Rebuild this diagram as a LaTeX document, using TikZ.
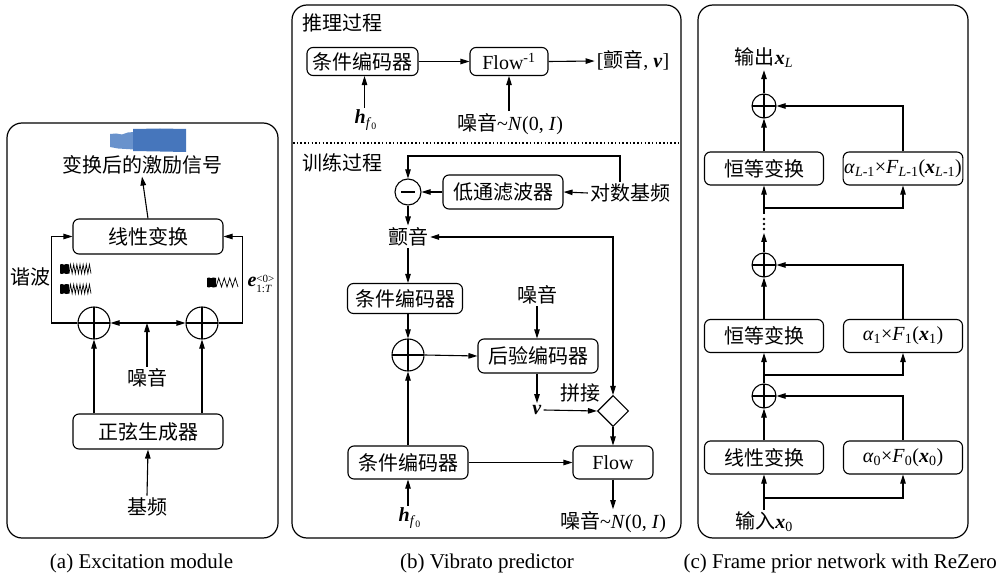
\documentclass[tikz,border=0pt]{standalone}
\usepackage{fontspec}
\setmainfont{Liberation Serif}
\newfontfamily\cjk{Noto Sans CJK SC}
\usetikzlibrary{arrows.meta,shapes.geometric}
\newcommand\zh[1]{{\cjk #1}}
\newcommand\bi[1]{\textbf{\textit{#1}}}
\definecolor{blobblue}{RGB}{70,118,188}
\definecolor{blobpale}{RGB}{105,146,204}
\tikzset{
  every node/.style={font=\fontsize{20}{24}\selectfont, inner sep=2pt},
  box/.style={draw, rounded corners=6pt, line width=1.1pt, minimum height=33pt, inner sep=1pt},
  arr/.style={-{Triangle[length=9pt,width=5.5pt]}, line width=1.1pt},
  dbl/.style={{Triangle[length=9pt,width=5.5pt]}-{Triangle[length=9pt,width=5.5pt]}, line width=1.1pt},
  ln/.style={line width=1.1pt},
  plus/.style={draw, circle, line width=1.1pt, minimum size=#1, inner sep=0pt,
    path picture={\draw[line width=1.1pt] (path picture bounding box.north) -- (path picture bounding box.south)
      (path picture bounding box.west) -- (path picture bounding box.east);}},
  plus/.default=32pt,
  minuscirc/.style={draw, circle, line width=1.1pt, minimum size=26pt, inner sep=0pt,
    path picture={\draw[line width=2.4pt] ([xshift=-7pt]path picture bounding box.center) -- ([xshift=7pt]path picture bounding box.center);}},
  catdiamond/.style={draw, diamond, line width=1.1pt, minimum width=31pt, minimum height=31pt, inner sep=0pt},
  panel/.style={draw, rounded corners=15pt, line width=1.2pt},
  caption/.style={font=\fontsize{21}{24}\selectfont},
  sigwave/.pic={
    \fill (0,-4.5) -- (2,-5) -- (4,-4.2) -- (6,-5) -- (9,-4.5) -- (9,4.5) -- (6,5) -- (4,4.2) -- (2,5) -- (0,4.5) -- cycle;
    \pgfmathsetmacro\cw{22/#1}
    \draw[line width=0.7pt] (9,4.5) \foreach \i in {1,...,#1}{ -- ++(\cw/2,-9) -- ++(\cw/2,9)};
  }
}
\begin{document}
\begin{tikzpicture}[x=1pt,y=-1pt]
\useasboundingbox (0,0) rectangle (998,577);

% ---------------- panel (a) ----------------
\draw[panel] (7,123) rectangle (278,538);
\fill[blobpale] (110,134) -- (116,133.5) -- (122,134.5) -- (128,132.5) -- (134,132) -- (134,149.5) -- (126,149) -- (118,148.5) -- (110,147) -- cycle;
\fill[blobblue] (133,129) -- (160,128.5) -- (186,129) -- (186,152) -- (160,151.5) -- (133,151) -- cycle;

\node (exc) at (142,165) {\zh{变换后的激励信号}};
\node[box, minimum width=150pt, minimum height=35pt] (lin) at (148,236.5) {\zh{线性变换}};
\node[box, minimum width=150pt, minimum height=35pt] (sine) at (148,431.5) {\zh{正弦生成器}};
\node[plus] (pa1) at (94,323) {};
\node[plus] (pa2) at (202,323) {};
\node (noise) at (147,378) {\zh{噪音}};
\node (f0) at (147,507) {\zh{基频}};
\node (harm) at (30,277) {\zh{谐波}};
\node[inner sep=0pt] (elab) at (261,284) {\bi{e}\raisebox{-0.7ex}{\fontsize{11}{12.5}\selectfont\shortstack[l]{<0>\\1:\textit{T}}}};
\coordinate (nj) at (147,323);

\pic at (60,269) {sigwave=7};
\pic at (60,289) {sigwave=7};
\pic at (207,282.5) {sigwave=4};

\draw[arr] (lin.north) -- (exc.south);
\draw[arr] (pa1.west) -- ++(-26,0) |- (lin.west);
\draw[arr] (pa2.east) -- ++(24,0) |- (lin.east);
\draw[arr] (noise.north) -- (nj);
\draw[arr] (nj) -- (pa1.east);
\draw[arr] (nj) -- (pa2.west);
\draw[arr] (sine.north -| pa1) -- (pa1.south);
\draw[arr] (sine.north -| pa2) -- (pa2.south);
\draw[arr] (f0.north) -- (sine.south);

% ---------------- panel (b) ----------------
\draw[panel] (292,5) rectangle (681,538);
\node[anchor=west] (inf) at (300,23) {\zh{推理过程}};
\node[box, minimum width=111pt, minimum height=28pt] (ce1) at (362.5,61.5) {\zh{条件编码器}};
\node[box, minimum width=78pt, minimum height=28pt] (finv) at (509,61.5) {Flow\textsuperscript{-1}};
\node (out1) at (633,61) {[\zh{颤音}, \bi{v}]};
\node (hf1) at (366,120) {\bi{h}\textsubscript{\textit{f}\textsubscript{0}}};
\node (n1) at (510,124) {\zh{噪音}\textasciitilde\textit{N}(0, \textit{I})};
\draw[arr] (ce1.east) -- (finv.west);
\draw[arr] (finv.east) -- (out1.west);
\draw[arr] (hf1.north -| ce1) ++(2,0) -- ([xshift=2pt]ce1.south);
\draw[arr] (n1.north -| finv) -- (finv.south);

\draw[line width=1.5pt, dash pattern=on 1.5pt off 2.2pt] (293,143) -- (680,143);

\node[anchor=west] (tr) at (300,163) {\zh{训练过程}};
\node[minuscirc] (mc) at (408,192) {};
\node[box, minimum width=120pt, minimum height=34pt] (lpf) at (503,192) {\zh{低通滤波器}};
\node (lf0) at (630,193) {\zh{对数基频}};
\coordinate (fb) at (620,156);
\draw[arr] (lf0.west) -- (lpf.east);
\draw[arr] (lpf.west) -- (mc.east);
\draw[arr] (lf0.north -| fb) -- (fb) -| (mc.north);
\node (vib) at (408,237) {\zh{颤音}};
\draw[arr] (mc.south) -- (vib.north);
\node[box, minimum width=115pt, minimum height=30pt] (ce2) at (405,298.5) {\zh{条件编码器}};
\draw[arr] (vib.south) -- (vib.south |- ce2.north);
\node (n2) at (537,295) {\zh{噪音}};
\node[plus] (pb) at (408,355) {};
\draw[arr] (ce2.south -| pb) -- (pb.north);
\node[box, minimum width=120pt, minimum height=34pt] (post) at (538,356) {\zh{后验编码器}};
\draw[arr] (pb.east) -- (post.west);
\draw[arr] (n2.south) -- (n2.south |- post.north);
\node (vv) at (537,410) {\bi{v}};
\node[catdiamond] (cat) at (613,411) {};
\node (pj) at (580,393) {\zh{拼接}};
\draw[arr] (post.south -| vv) -- (vv.north);
\draw[arr] (vv.east) -- (cat.west);
\draw[dbl] (vib.east) -- (vib.east -| cat) -- (cat.north);
\node[box, minimum width=80pt, minimum height=33pt] (flow) at (613,462.5) {Flow};
\node[box, minimum width=120pt, minimum height=33pt] (ce3) at (408,462.5) {\zh{条件编码器}};
\draw[arr] (cat.south) -- (flow.north);
\draw[arr] (ce3.east) -- (flow.west);
\draw[arr] (ce3.north) -- (pb.south);
\node (hf2) at (410,518) {\bi{h}\textsubscript{\textit{f}\textsubscript{0}}};
\draw[arr] (hf2.north -| ce3) -- (ce3.south);
\node (n3) at (613,522) {\zh{噪音}\textasciitilde\textit{N}(0, \textit{I})};
\draw[arr] (flow.south) -- (n3.north);

% ---------------- panel (c) ----------------
\draw[panel] (698,5) rectangle (968,538);
\node (xl) at (764,58) {\zh{输出}\bi{x}\textsubscript{\textit{L}}};
\node[plus=24pt] (c3) at (764,106) {};
\node[box, minimum width=119pt, minimum height=33pt] (id2) at (764,168.5) {\zh{恒等变换}};
\node[box, minimum width=119pt, minimum height=33pt] (aL) at (903,168.5) {\textit{α}\textsubscript{\textit{L}-1}×\textit{F}\textsubscript{\textit{L}-1}(\bi{x}\textsubscript{\textit{L}-1})};
\draw[arr] (c3.north) -- (xl.south);
\draw[arr] (id2.north) -- (c3.south);
\draw[arr] (aL.north) |- (c3.east);
\coordinate (j2) at (764,208);
\draw[arr] (j2) -- (id2.south);
\draw[arr] (j2) -| (aL.south);
\draw[ln] (j2) -- (764,214);
\foreach \yy in {219,224,229} \fill (764,\yy) circle (1.3pt);
\node[plus=24pt] (c2) at (764,265) {};
\draw[arr] (c2.north) -- (764,233);
\node[box, minimum width=119pt, minimum height=33pt] (id1) at (764,336) {\zh{恒等变换}};
\node[box, minimum width=119pt, minimum height=33pt] (a1) at (903,336) {\textit{α}\textsubscript{1}×\textit{F}\textsubscript{1}(\bi{x}\textsubscript{1})};
\draw[arr] (id1.north) -- (c2.south);
\draw[arr] (a1.north) |- (c2.east);
\coordinate (j1) at (764,375);
\draw[arr] (j1) -- (id1.south);
\draw[arr] (j1) -| (a1.south);
\node[plus=24pt] (c1) at (764,396) {};
\draw[ln] (c1.north) -- (j1);
\node[box, minimum width=119pt, minimum height=33pt] (lin2) at (764,457.5) {\zh{线性变换}};
\node[box, minimum width=119pt, minimum height=33pt] (a0) at (903,457.5) {\textit{α}\textsubscript{0}×\textit{F}\textsubscript{0}(\bi{x}\textsubscript{0})};
\draw[arr] (lin2.north) -- (c1.south);
\draw[arr] (a0.north) |- (c1.east);
\coordinate (j0) at (764,498);
\draw[arr] (j0) -- (lin2.south);
\draw[arr] (j0) -| (a0.south);
\node (x0) at (764,522) {\zh{输入}\bi{x}\textsubscript{0}};
\draw[ln] (x0.north) -- (j0);

% ---------------- captions ----------------
\node[caption] (capa) at (141.5,563) {(a) Excitation module};
\node[caption] (capb) at (487,563) {(b) Vibrato predictor};
\node[caption, anchor=east, inner sep=0pt] (capc) at (997,563) {(c) Frame prior network with ReZero};
\end{tikzpicture}
\end{document}
